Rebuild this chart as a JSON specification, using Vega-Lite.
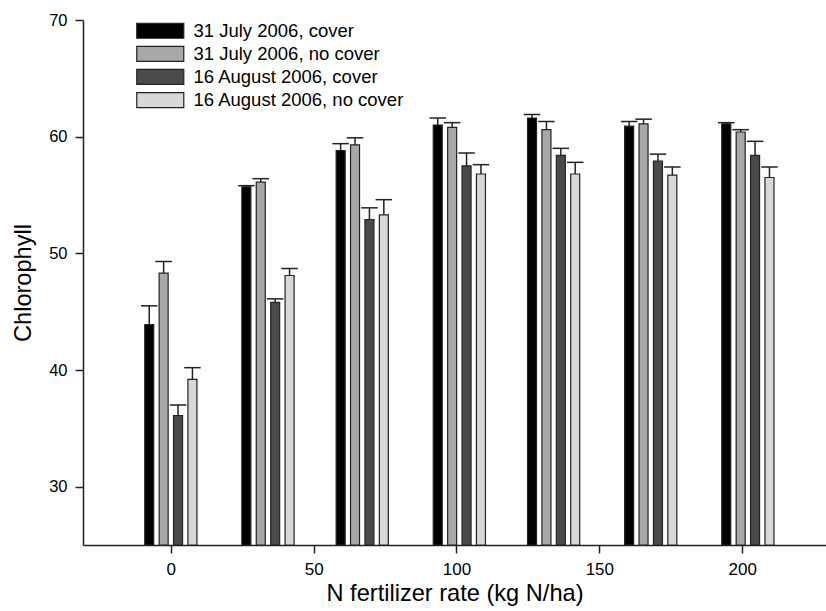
{
  "$schema": "https://vega.github.io/schema/vega-lite/v6.json",
  "width": 743,
  "height": 525,
  "autosize": {"type": "none"},
  "padding": {"left": 83, "top": 20, "right": 0, "bottom": 66},
  "config": {
    "font": "Liberation Sans",
    "view": {"stroke": null},
    "axis": {
      "grid": false,
      "domainColor": "#222222",
      "domainWidth": 1.5,
      "tickColor": "#222222",
      "tickWidth": 1.5,
      "tickSize": 8,
      "labelFontSize": 16.5,
      "labelColor": "#000000",
      "labelPadding": 8,
      "titleFontSize": 23.6,
      "titleFontWeight": "normal",
      "titleColor": "#000000"
    }
  },
  "data": {
    "values": [
      {"rate": 0, "series": "31 July 2006, cover", "mean": 43.9, "upper": 45.5},
      {"rate": 0, "series": "31 July 2006, no cover", "mean": 48.3, "upper": 49.3},
      {"rate": 0, "series": "16 August 2006, cover", "mean": 36.1, "upper": 37.0},
      {"rate": 0, "series": "16 August 2006, no cover", "mean": 39.2, "upper": 40.2},
      {"rate": 34, "series": "31 July 2006, cover", "mean": 55.7, "upper": 55.8},
      {"rate": 34, "series": "31 July 2006, no cover", "mean": 56.1, "upper": 56.4},
      {"rate": 34, "series": "16 August 2006, cover", "mean": 45.8, "upper": 46.1},
      {"rate": 34, "series": "16 August 2006, no cover", "mean": 48.1, "upper": 48.7},
      {"rate": 67, "series": "31 July 2006, cover", "mean": 58.8, "upper": 59.4},
      {"rate": 67, "series": "31 July 2006, no cover", "mean": 59.3, "upper": 59.9},
      {"rate": 67, "series": "16 August 2006, cover", "mean": 52.9, "upper": 53.9},
      {"rate": 67, "series": "16 August 2006, no cover", "mean": 53.3, "upper": 54.6},
      {"rate": 101, "series": "31 July 2006, cover", "mean": 61.0, "upper": 61.6},
      {"rate": 101, "series": "31 July 2006, no cover", "mean": 60.8, "upper": 61.2},
      {"rate": 101, "series": "16 August 2006, cover", "mean": 57.5, "upper": 58.6},
      {"rate": 101, "series": "16 August 2006, no cover", "mean": 56.8, "upper": 57.6},
      {"rate": 134, "series": "31 July 2006, cover", "mean": 61.6, "upper": 61.9},
      {"rate": 134, "series": "31 July 2006, no cover", "mean": 60.6, "upper": 61.3},
      {"rate": 134, "series": "16 August 2006, cover", "mean": 58.4, "upper": 59.0},
      {"rate": 134, "series": "16 August 2006, no cover", "mean": 56.8, "upper": 57.8},
      {"rate": 168, "series": "31 July 2006, cover", "mean": 60.9, "upper": 61.3},
      {"rate": 168, "series": "31 July 2006, no cover", "mean": 61.1, "upper": 61.5},
      {"rate": 168, "series": "16 August 2006, cover", "mean": 57.9, "upper": 58.5},
      {"rate": 168, "series": "16 August 2006, no cover", "mean": 56.7, "upper": 57.4},
      {"rate": 202, "series": "31 July 2006, cover", "mean": 61.1, "upper": 61.2},
      {"rate": 202, "series": "31 July 2006, no cover", "mean": 60.4, "upper": 60.6},
      {"rate": 202, "series": "16 August 2006, cover", "mean": 58.4, "upper": 59.6},
      {"rate": 202, "series": "16 August 2006, no cover", "mean": 56.5, "upper": 57.4}
    ]
  },
  "encoding": {
    "x": {
      "field": "rate", "type": "quantitative",
      "scale": {"domain": [-29, 227.6], "nice": false, "zero": false},
      "axis": {"values": [0, 50, 100, 150, 200], "titlePadding": 4, "labelFontSize": 17},
      "title": "N fertilizer rate (kg N/ha)"
    },
    "y": {
      "field": "mean", "type": "quantitative",
      "scale": {"domain": [25, 70], "nice": false, "zero": false},
      "axis": {"values": [30, 40, 50, 60, 70], "titlePadding": 13},
      "title": "Chlorophyll"
    }
  },
  "layer": [
    {
      "transform": [{"filter": "datum.series === '31 July 2006, cover'"}],
      "layer": [
        {"mark": {"type": "bar", "width": 9, "xOffset": -21.6, "stroke": "#222222", "strokeWidth": 1.2},
         "encoding": {"y2": {"datum": 25},
           "fill": {"field": "series", "type": "nominal",
             "scale": {"domain": ["31 July 2006, cover", "31 July 2006, no cover", "16 August 2006, cover", "16 August 2006, no cover"], "range": ["#000000", "#a8a8a8", "#4a4a4a", "#d8d8d8"]},
             "legend": {"orient": "none", "legendX": 52, "legendY": 1.5, "title": null, "padding": 0,
               "symbolType": "M-1,-1H5.27V1H-1Z", "symbolSize": 225, "symbolStrokeColor": "#222222", "symbolStrokeWidth": 1.2,
               "symbolOpacity": 1, "labelFontSize": 18.5, "labelColor": "#000000", "labelOffset": 40, "labelLimit": 0, "rowPadding": 2.1}}}},
        {"mark": {"type": "rule", "color": "#222222", "strokeWidth": 1.5, "xOffset": -21.6},
         "encoding": {"y2": {"field": "upper"}}},
        {"mark": {"type": "tick", "orient": "horizontal", "size": 16.5, "thickness": 1.5, "color": "#222222", "opacity": 1, "xOffset": -21.6},
         "encoding": {"y": {"field": "upper", "type": "quantitative"}}}
      ]
    },
    {
      "transform": [{"filter": "datum.series === '31 July 2006, no cover'"}],
      "layer": [
        {"mark": {"type": "bar", "width": 9, "xOffset": -7.2, "stroke": "#222222", "strokeWidth": 1.2},
         "encoding": {"y2": {"datum": 25},
           "fill": {"field": "series", "type": "nominal",
             "scale": {"domain": ["31 July 2006, cover", "31 July 2006, no cover", "16 August 2006, cover", "16 August 2006, no cover"], "range": ["#000000", "#a8a8a8", "#4a4a4a", "#d8d8d8"]}}}},
        {"mark": {"type": "rule", "color": "#222222", "strokeWidth": 1.5, "xOffset": -7.2},
         "encoding": {"y2": {"field": "upper"}}},
        {"mark": {"type": "tick", "orient": "horizontal", "size": 16.5, "thickness": 1.5, "color": "#222222", "opacity": 1, "xOffset": -7.2},
         "encoding": {"y": {"field": "upper", "type": "quantitative"}}}
      ]
    },
    {
      "transform": [{"filter": "datum.series === '16 August 2006, cover'"}],
      "layer": [
        {"mark": {"type": "bar", "width": 9, "xOffset": 7.2, "stroke": "#222222", "strokeWidth": 1.2},
         "encoding": {"y2": {"datum": 25},
           "fill": {"field": "series", "type": "nominal",
             "scale": {"domain": ["31 July 2006, cover", "31 July 2006, no cover", "16 August 2006, cover", "16 August 2006, no cover"], "range": ["#000000", "#a8a8a8", "#4a4a4a", "#d8d8d8"]}}}},
        {"mark": {"type": "rule", "color": "#222222", "strokeWidth": 1.5, "xOffset": 7.2},
         "encoding": {"y2": {"field": "upper"}}},
        {"mark": {"type": "tick", "orient": "horizontal", "size": 16.5, "thickness": 1.5, "color": "#222222", "opacity": 1, "xOffset": 7.2},
         "encoding": {"y": {"field": "upper", "type": "quantitative"}}}
      ]
    },
    {
      "transform": [{"filter": "datum.series === '16 August 2006, no cover'"}],
      "layer": [
        {"mark": {"type": "bar", "width": 9, "xOffset": 21.6, "stroke": "#222222", "strokeWidth": 1.2},
         "encoding": {"y2": {"datum": 25},
           "fill": {"field": "series", "type": "nominal",
             "scale": {"domain": ["31 July 2006, cover", "31 July 2006, no cover", "16 August 2006, cover", "16 August 2006, no cover"], "range": ["#000000", "#a8a8a8", "#4a4a4a", "#d8d8d8"]}}}},
        {"mark": {"type": "rule", "color": "#222222", "strokeWidth": 1.5, "xOffset": 21.6},
         "encoding": {"y2": {"field": "upper"}}},
        {"mark": {"type": "tick", "orient": "horizontal", "size": 16.5, "thickness": 1.5, "color": "#222222", "opacity": 1, "xOffset": 21.6},
         "encoding": {"y": {"field": "upper", "type": "quantitative"}}}
      ]
    }
  ]
}
